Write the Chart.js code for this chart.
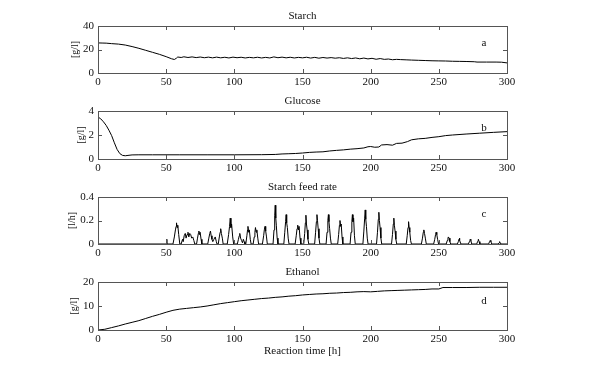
<!DOCTYPE html>
<html><head><meta charset="utf-8">
<script src="https://cdn.jsdelivr.net/npm/chart.js@4.4.0/dist/chart.umd.min.js"></script>
<style>
html,body{margin:0;padding:0;background:#fff;width:597px;height:382px;overflow:hidden;}
canvas{position:absolute;left:0;}
</style></head>
<body>
<canvas id="ca"></canvas><canvas id="cb"></canvas><canvas id="cc"></canvas><canvas id="cd"></canvas>
<script>
// ---- data ----
const starchTime = [0,3,6,10,15,20,25,30,35,40,45,50,54,56,57.5,58.5,61,63,66,69,72,75,78,81,84,87,90,93,96,99,102,105,108,111,114,117,120,123,126,129,132,135,138,141,144,147,150,153,156,159,162,165,168,171,174,177,180,183,186,189,192,195,198,201,204,207,210,213,216,219,222,226,230,235,240,245,250,255,260,265,270,276,278,285,292,296,300];
const starchConc = [25.6,25.5,25.4,25.0,24.6,23.8,22.5,21.0,19.3,17.6,15.9,13.9,12.1,11.5,12.6,13.6,13.2,13.8,13.2,13.7,13.1,13.6,13.0,13.5,12.9,13.5,12.9,13.4,12.8,13.5,13.0,13.4,12.8,13.3,12.9,13.4,12.8,13.3,12.8,13.7,13.0,13.5,12.9,13.4,12.8,13.3,12.9,13.4,12.7,13.3,12.6,13.2,12.7,13.1,12.6,13.0,12.4,12.9,12.3,12.8,12.1,12.7,12.0,12.5,11.7,12.3,11.6,11.9,11.3,11.6,11.4,11.2,11.0,10.8,10.6,10.4,10.3,10.2,10.0,9.9,9.8,9.6,9.3,9.3,9.3,9.2,8.6];

const glucoseTime = [0,2,4,6,8,10,12,14,16,18,20,22,25,30,40,60,80,100,120,130,135,140,145,150,155,160,165,170,175,180,185,190,195,198,200,203,206,208,212,216,219,223,227,230,235,240,245,250,255,260,270,280,290,300];
const glucoseConc = [3.5,3.35,3.1,2.8,2.4,1.95,1.35,0.8,0.45,0.3,0.27,0.3,0.34,0.35,0.35,0.35,0.35,0.35,0.36,0.38,0.42,0.44,0.46,0.5,0.55,0.58,0.6,0.67,0.72,0.76,0.82,0.86,0.92,1.02,1.04,0.98,1.0,1.17,1.2,1.15,1.3,1.32,1.45,1.6,1.68,1.72,1.8,1.86,1.95,2.0,2.08,2.15,2.22,2.28];

const feedTime = [0,50.2,50.4,50.6,
 55.0,56.0,56.8,57.3,57.6,58.0,58.5,59.2,60.0,
 61.0,62.0,62.5,63.2,64.0,64.6,65.3,66.0,66.6,67.3,68.0,68.7,69.5,70.3,71.0,
 72.3,73.0,73.6,74.0,74.4,74.9,75.6,76.2,
 80.5,81.3,82.0,82.5,83.0,83.6,84.2,85.0,86.0,86.8,87.3,
 88.2,89.0,89.6,90.0,90.5,91.2,91.8,
 94.8,95.8,96.5,97.0,97.5,98.0,98.8,99.5,
 102.2,103.0,103.6,104.0,104.6,105.3,106.0,106.6,107.2,107.8,
 108.4,109.2,109.7,110.0,110.5,111.0,111.7,112.3,
 113.8,114.6,115.1,115.5,116.0,116.5,117.2,117.8,
 120.6,121.5,122.0,122.5,123.0,123.6,124.2,
 128.4,129.1,129.6,130.0,130.4,130.8,131.4,132.0,
 136.3,137.0,137.6,138.0,138.4,138.9,139.5,140.1,
 144.6,145.4,146.0,146.5,147.0,147.5,148.2,148.8,
 150.9,151.6,152.1,152.5,152.9,153.4,154.0,154.6,
 158.9,159.6,160.2,160.6,161.0,161.5,162.1,162.7,
 167.3,168.0,168.6,169.0,169.4,169.9,170.5,171.1,
 175.8,176.5,177.1,177.5,177.9,178.4,179.0,179.6,
 184.9,185.6,186.2,186.6,187.0,187.5,188.1,188.7,
 194.3,195.0,195.6,196.0,196.4,196.9,197.5,198.1,
 204.3,205.0,205.6,206.0,206.4,206.9,207.5,208.1,
 215.3,216.0,216.6,217.0,217.4,217.9,218.5,219.1,
 226.1,226.8,227.4,227.8,228.2,228.7,229.3,229.9,
 237.2,238.0,238.6,239.0,239.5,240.1,240.8,
 246.2,247.0,247.6,248.0,248.5,249.1,249.8,
 255.4,256.2,256.7,257.0,257.5,258.1,258.7,
 263.6,264.3,264.8,265.0,265.5,266.2,
 271.7,272.4,272.8,273.0,273.5,274.1,
 277.8,278.4,278.8,279.0,279.5,280.1,
 286.5,287.2,287.7,288.2,288.8,
 293.6,294.2,294.6,295.0,295.6,
 300];
const feedRate = [0,0,0.04,0,
 0,0.06,0.12,0.15,0.18,0.14,0.16,0.08,0,
 0,0.04,0.02,0.07,0.09,0.05,0.08,0.10,0.06,0.09,0.08,0.05,0.06,0.03,0,
 0,0.05,0.09,0.11,0.08,0.10,0.04,0,
 0,0.05,0.09,0.11,0.07,0.04,0.02,0.04,0.06,0.02,0,
 0,0.06,0.10,0.13,0.09,0.05,0,
 0,0.08,0.15,0.22,0.14,0.17,0.06,0,
 0,0.04,0.07,0.09,0.05,0.03,0.01,0.04,0.02,0,
 0,0.07,0.12,0.15,0.10,0.12,0.04,0,
 0,0.06,0.10,0.14,0.10,0.12,0.05,0,
 0,0.07,0.12,0.15,0.11,0.06,0,
 0,0.12,0.24,0.33,0.22,0.16,0.05,0,
 0,0.10,0.19,0.25,0.18,0.14,0.05,0,
 0,0.07,0.13,0.16,0.12,0.15,0.05,0,
 0,0.09,0.18,0.245,0.17,0.12,0.04,0,
 0,0.10,0.19,0.25,0.20,0.13,0.05,0,
 0,0.10,0.20,0.25,0.19,0.13,0.05,0,
 0,0.08,0.16,0.20,0.15,0.17,0.06,0,
 0,0.10,0.19,0.25,0.19,0.22,0.07,0,
 0,0.11,0.22,0.29,0.21,0.15,0.05,0,
 0,0.10,0.21,0.27,0.20,0.14,0.05,0,
 0,0.08,0.17,0.22,0.16,0.11,0.04,0,
 0,0.07,0.14,0.19,0.14,0.10,0.03,0,
 0,0.05,0.10,0.12,0.09,0.05,0,
 0,0.04,0.08,0.10,0.08,0.04,0,
 0,0.03,0.05,0.06,0.05,0.02,0,
 0,0.02,0.04,0.05,0.03,0,
 0,0.02,0.03,0.04,0.03,0,
 0,0.02,0.03,0.04,0.02,0,
 0,0.02,0.03,0.02,0,
 0,0.01,0.02,0.01,0,
 0];

const ethanolTime = [0,5,10,15,20,25,30,35,40,45,50,55,60,65,70,75,80,85,90,95,100,105,110,115,120,125,130,135,140,145,150,155,160,165,170,175,180,185,190,195,200,205,210,215,220,225,230,235,240,245,250,253,260,270,280,290,300];
const ethanolConc = [0,0.3,1.0,1.7,2.5,3.2,3.9,4.8,5.7,6.5,7.4,8.2,8.7,9.0,9.3,9.6,10.0,10.5,11.0,11.4,11.8,12.2,12.5,12.8,13.1,13.3,13.6,13.8,14.1,14.3,14.6,14.8,15.0,15.1,15.3,15.4,15.6,15.7,15.9,16.0,15.9,16.1,16.3,16.4,16.5,16.6,16.7,16.8,16.9,17.1,17.1,17.7,17.7,17.7,17.8,17.8,17.8];

const panelTitles = ["Starch","Glucose","Starch feed rate","Ethanol"];
const panelLetters = ["a","b","c","d"];
const yLabels = ["[g/l]","[g/l]","[l/h]","[g/l]"];
const yMax = [40,4,0.4,20];
const yStep = [20,2,0.2,10];
const xLabel = "Reaction time [h]";

// ---- layout ----
const FONT = "'Liberation Serif','Times New Roman',serif";
const TXT = '#111';
const AX = '#555';
const L = 98, R = 507;
const panels = [
  {id:'ca', cTop:0,   cH:92,  aTop:26,  aBot:73,  yl:75, t:[starchTime,starchConc]},
  {id:'cb', cTop:92,  cH:86,  aTop:111, aBot:159, yl:81, t:[glucoseTime,glucoseConc]},
  {id:'cc', cTop:178, cH:86,  aTop:197, aBot:244, yl:72, t:[feedTime,feedRate]},
  {id:'cd', cTop:264, cH:118, aTop:282, aBot:330, yl:74, t:[ethanolTime,ethanolConc]}
];

panels.forEach((p, i) => {
  const cv = document.getElementById(p.id);
  cv.width = 597; cv.height = p.cH;
  cv.style.top = p.cTop + 'px';
  cv.style.width = '597px'; cv.style.height = p.cH + 'px';
  const pts = p.t[0].map((x, k) => ({x: x, y: p.t[1][k]}));

  const decor = {
    id: 'decor' + i,
    afterDraw(chart) {
      const {ctx, chartArea: a, scales: {x, y}} = chart;
      ctx.save();
      ctx.strokeStyle = AX; ctx.lineWidth = 1;
      ctx.strokeRect(Math.round(a.left) + 0.5, Math.round(a.top) + 0.5, Math.round(a.right - a.left), Math.round(a.bottom - a.top));
      const tl = 4;
      ctx.beginPath();
      x.ticks.forEach(t => {
        const px = Math.round(x.getPixelForValue(t.value)) + 0.5;
        ctx.moveTo(px, a.top); ctx.lineTo(px, a.top + tl);
        ctx.moveTo(px, a.bottom); ctx.lineTo(px, a.bottom - tl);
      });
      y.ticks.forEach(t => {
        const py = Math.round(y.getPixelForValue(t.value)) + 0.5;
        ctx.moveTo(a.left, py); ctx.lineTo(a.left + tl, py);
        ctx.moveTo(a.right, py); ctx.lineTo(a.right - tl, py);
      });
      ctx.stroke();
      ctx.fillStyle = TXT;
      ctx.font = '11px ' + FONT;
      ctx.textAlign = 'center'; ctx.textBaseline = 'middle';
      ctx.fillText(panelTitles[i], (a.left + a.right) / 2, a.top - 10);
      ctx.fillText(panelLetters[i], a.right - 23, a.top + (i===3 ? 19 : 17));
      if (i === 3) ctx.fillText(xLabel, (a.left + a.right) / 2, a.bottom + 21);
      ctx.save();
      ctx.font = '10px ' + FONT;
      ctx.translate(p.yl, (a.top + a.bottom) / 2);
      ctx.rotate(-Math.PI / 2);
      ctx.fillText(yLabels[i], 0, 0);
      ctx.restore();
      ctx.restore();
    }
  };

  new Chart(cv, {
    type: 'line',
    data: { datasets: [{ data: pts, borderColor: '#000', borderWidth: 1, pointRadius: 0, tension: 0, fill: false }] },
    options: {
      responsive: false, animation: false, devicePixelRatio: 1,
      layout: { padding: { left: 0, right: 597 - R, top: p.aTop - p.cTop, bottom: 0 } },
      plugins: { legend: { display: false }, tooltip: { enabled: false }, title: { display: false } },
      scales: {
        x: {
          type: 'linear', min: 0, max: 300,
          ticks: { stepSize: 50, color: TXT, font: { family: FONT, size: 11 }, padding: 3, maxRotation: 0 },
          grid: { display: false, drawTicks: false },
          border: { display: false },
          afterFit(s) { s.height = p.cTop + p.cH - p.aBot; }
        },
        y: {
          min: 0, max: yMax[i],
          ticks: { stepSize: yStep[i], color: TXT, font: { family: FONT, size: 11 }, padding: 4,
                   callback: v => (i === 2 ? (v === 0 ? '0' : v.toFixed(1)) : String(v)) },
          grid: { display: false, drawTicks: false },
          border: { display: false },
          afterFit(s) { s.width = L; }
        }
      }
    },
    plugins: [decor]
  });
});
</script>
</body></html>
